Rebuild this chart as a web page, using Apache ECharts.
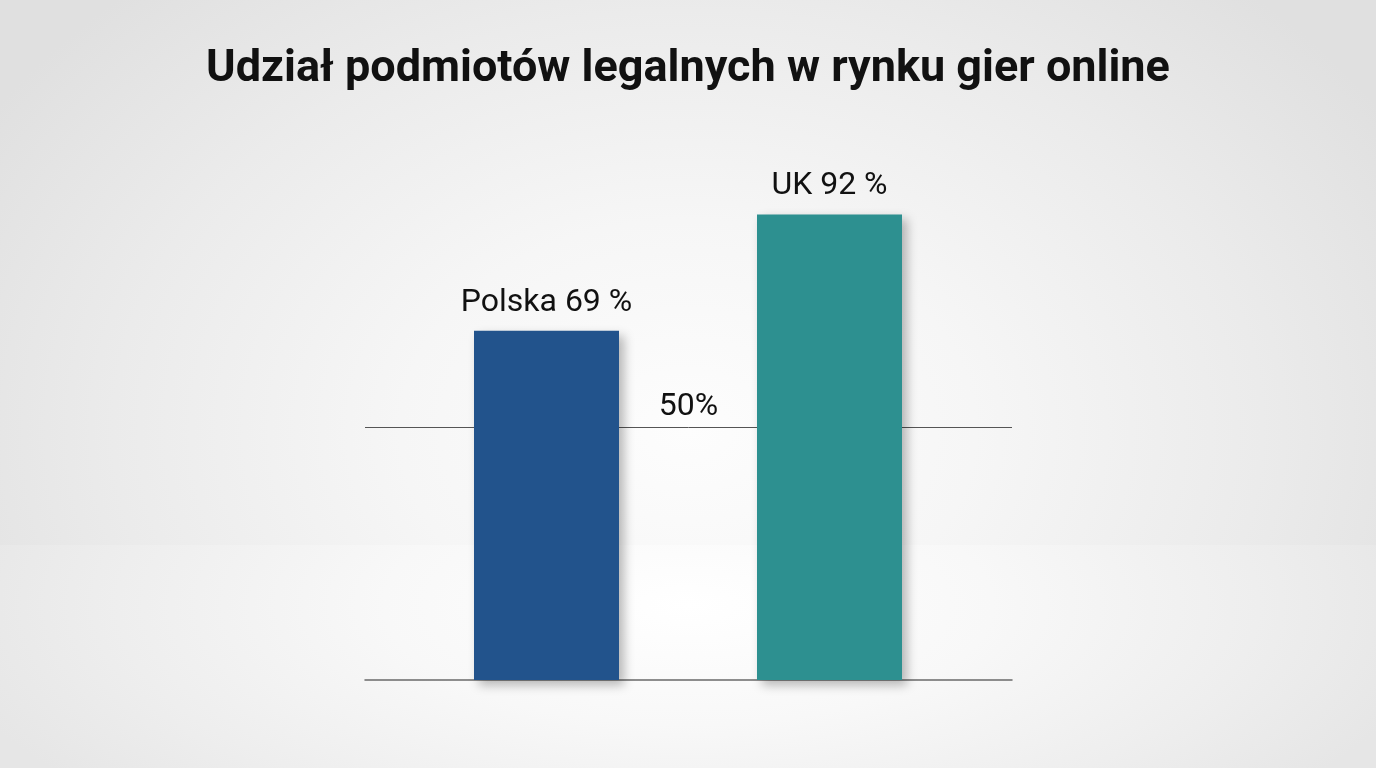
<!DOCTYPE html>
<html>
<head>
<meta charset="utf-8">
<script src="https://cdn.jsdelivr.net/npm/echarts@6/dist/echarts.min.js"></script>
<style>
  html, body { margin: 0; padding: 0; width: 1376px; height: 768px; overflow: hidden; background: #eeeeee; }
  .bg { position: absolute; left: 0; width: 1376px; }
  #wall { top: 0; height: 545px;
    background: radial-gradient(ellipse 820px 600px at 688px 430px, #fdfdfd 0%, #f6f6f6 35%, #ebebeb 70%, #e0e0e0 100%); }
  #floor { top: 545px; height: 223px;
    background: radial-gradient(ellipse 760px 300px at 688px 60px, #ffffff 0%, #f8f8f8 40%, #eeeeee 75%, #e6e6e6 100%); }
  #chart { position: absolute; left: 0; top: 0; width: 1376px; height: 768px; }
</style>
</head>
<body>
<div id="wall" class="bg"></div>
<div id="floor" class="bg"></div>
<div id="chart"></div>
<script>
const titleText = 'Udział podmiotów legalnych w rynku gier online';
const categories = ['Polska', 'UK'];
const values = [69, 92];
const barColors = ['#22538c', '#2d9090'];
const referenceLevel = 50;
const referenceLabel = '50%';

const chart = echarts.init(document.getElementById('chart'), null, { renderer: 'canvas' });
const font = 'Roboto, "Noto Sans", sans-serif';

chart.setOption({
  backgroundColor: 'transparent',
  animation: false,
  title: {
    text: titleText,
    left: 'center',
    top: 42,
    textStyle: { fontFamily: font, fontSize: 45, fontWeight: 'bold', color: '#111111' }
  },
  grid: [
    { left: 365, right: 364, top: 174, bottom: 88 },
    { left: 405, right: 405, top: 174, bottom: 88 }
  ],
  xAxis: [
    {
      gridIndex: 0, type: 'category', data: categories,
      axisLine: { show: true, lineStyle: { color: '#6a6a6a', width: 1.5 } },
      axisTick: { show: false }, axisLabel: { show: false }, splitLine: { show: false }
    },
    {
      gridIndex: 1, type: 'category', data: categories,
      axisLine: { show: false }, axisTick: { show: false }, axisLabel: { show: false }
    }
  ],
  yAxis: [
    { gridIndex: 0, type: 'value', min: 0, max: 100, show: false },
    { gridIndex: 1, type: 'value', min: 0, max: 100, show: false }
  ],
  series: [
    {
      type: 'line', xAxisIndex: 0, yAxisIndex: 0, data: [],
      silent: true,
      markLine: {
        silent: true, symbol: 'none',
        lineStyle: { color: '#555555', width: 1, type: 'solid' },
        label: {
          show: true, position: 'middle', formatter: referenceLabel, distance: 4,
          fontFamily: font, fontSize: 32, color: '#111111'
        },
        data: [{ yAxis: referenceLevel }]
      },
      z: 1
    },
    {
      type: 'bar', xAxisIndex: 1, yAxisIndex: 1,
      zlevel: 1,
      barWidth: 145,
      data: values.map((v, i) => ({
        value: v,
        itemStyle: {
          color: barColors[i],
          shadowColor: 'rgba(0,0,0,0.28)', shadowBlur: 10, shadowOffsetX: 5, shadowOffsetY: 5
        }
      })),
      label: {
        show: true, position: 'top', distance: 12,
        formatter: (p) => p.name + ' ' + p.value + ' %',
        fontFamily: font, fontSize: 32, color: '#111111'
      },
      z: 3
    }
  ]
});
</script>
</body>
</html>
